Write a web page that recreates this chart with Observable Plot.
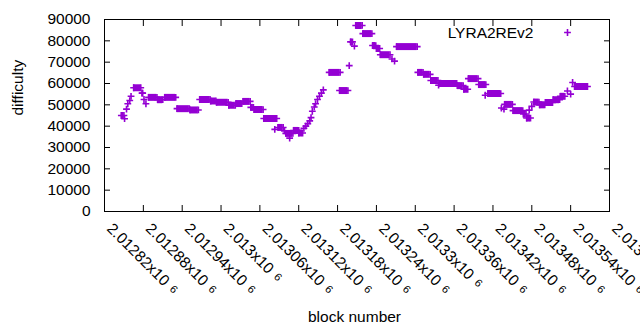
<!DOCTYPE html>
<html><head><meta charset="utf-8">
<script src="https://cdn.jsdelivr.net/npm/d3@7"></script>
<script src="https://cdn.jsdelivr.net/npm/@observablehq/plot@0.6"></script>
<style>body{margin:0;background:#fff}</style>
</head><body><div id="chart"></div>
<script>
// Each entry: a run of blocks [blockStart .. blockEnd] with the same difficulty (single point when equal)
const blockStart = [2012846,2012851,2012854,2012856,2012859,2012861,2012865,2012878,2012881,2012884,
  2012888,2012902,2012913,2012932,2012952,2012967,2012984,2012993,2013012,2013023,
  2013034,2013046,2013051,2013066,2013083,2013088,2013098,2013100,2013106,2013112,
  2013120,2013128,2013131,2013134,2013137,2013139,2013141,2013144,2013146,2013149,
  2013152,2013155,2013158,2013167,2013183,2013198,2013200,2013206,2013208,2013219,
  2013234,2013240,2013246,2013264,2013268,2013271,2013304,2013313,2013324,2013336,
  2013337,2013365,2013375,2013382,2013398,2013408,2013412,2013433,2013437,2013438,
  2013451,2013467,2013472,2013476,2013480,2013483,2013492,2013501,2013513,2013524,
  2013535,2013540,2013543,2013546];
const blockEnd = [2012850,2012851,2012854,2012856,2012859,2012861,2012876,2012879,2012881,2012884,
  2012901,2012910,2012930,2012951,2012965,2012983,2012992,2013011,2013022,2013032,
  2013045,2013050,2013065,2013086,2013083,2013096,2013098,2013111,2013106,2013120,
  2013126,2013128,2013131,2013134,2013137,2013139,2013141,2013144,2013146,2013149,
  2013152,2013155,2013158,2013184,2013196,2013198,2013203,2013206,2013218,2013233,
  2013239,2013245,2013261,2013264,2013268,2013303,2013312,2013323,2013335,2013336,
  2013364,2013374,2013381,2013397,2013409,2013408,2013432,2013433,2013437,2013450,
  2013466,2013471,2013478,2013476,2013480,2013491,2013500,2013512,2013523,2013531,
  2013535,2013540,2013543,2013566];
const difficulty = [45000,43500,48000,50500,52000,54000,58000,55500,52500,50500,
  53500,52400,53500,48200,47600,52500,51800,51200,49800,50600,
  51600,48800,47800,43600,38500,39400,37800,36600,34400,38000,
  36800,39000,40000,41200,42500,44000,47000,49000,50500,52500,
  54000,55500,57000,65200,56700,68400,79500,77500,87200,83400,
  77800,76400,73500,71500,70500,77300,65200,64300,61400,59200,
  60000,59000,57300,62300,59500,54500,55300,48500,48000,50200,
  47300,45700,43800,47500,49300,51300,50000,51100,52400,54000,
  56500,55000,60500,58600];

const xTicks = [2012820,2012880,2012940,2013000,2013060,2013120,2013180,2013240,2013300,2013360,2013420,2013480,2013540,2013600];
const xTickLabels = ["2.01282","2.01288","2.01294","2.013","2.01306","2.01312","2.01318","2.01324","2.0133","2.01336","2.01342","2.01348","2.01354","2.0136"];
const xExponent = "6";
const yTicks = [0,10000,20000,30000,40000,50000,60000,70000,80000,90000];
const seriesName = "LYRA2REv2";
const xTitle = "block number";
const yTitle = "difficulty";

const color = "#9400d3";
const plusR = 2.33; // gives a plus about 7 px across
const rows = blockStart.map((s, i) => ({s, e: blockEnd[i], v: difficulty[i]}));
const runs = rows.filter(d => d.e > d.s);
const pts = rows.flatMap(d => d.e > d.s ? [{b: d.s, v: d.v}, {b: d.e, v: d.v}] : [{b: d.s, v: d.v}]);

const chart = Plot.plot({
  width: 640, height: 330,
  marginLeft: 104, marginRight: 31, marginTop: 19, marginBottom: 119,
  style: {fontFamily: '"Liberation Sans", Arial, sans-serif', fontSize: "15.5px", background: "white", color: "black"},
  x: {domain: [2012820, 2013600]},
  y: {domain: [0, 90000]},
  marks: [
    Plot.ruleY(runs, {y: "v", x1: "s", x2: "e", stroke: color, strokeWidth: 7}),
    Plot.dot(pts, {x: "b", y: "v", symbol: "plus", r: plusR, stroke: color, strokeWidth: 1.6, fill: "none"}),
    Plot.frame({stroke: "black"}),
    Plot.axisY(yTicks, {anchor: "left", tickSize: -6, tickPadding: 20, tickFormat: d => String(d), label: null}),
    Plot.axisY(yTicks, {anchor: "right", tickSize: -6, tickFormat: () => "", label: null}),
    Plot.axisX(xTicks, {anchor: "bottom", tickSize: -6, tickFormat: () => "", label: null}),
    Plot.axisX(xTicks, {anchor: "top", tickSize: -6, tickFormat: () => "", label: null}),
    Plot.text(xTicks, {x: d => d, text: (d, i) => xTickLabels[i] + "x10", frameAnchor: "bottom", dy: 18, dx: 1.5, rotate: 45, textAnchor: "start", lineAnchor: "bottom"}),
    Plot.text([seriesName], {x: null, y: null, frameAnchor: "top-right", dx: -76, dy: 18.3, textAnchor: "end", lineAnchor: "bottom"}),
    Plot.dot([seriesName], {x: null, y: null, frameAnchor: "top-right", dx: -42, dy: 13, symbol: "plus", r: plusR, stroke: color, strokeWidth: 1.6, fill: "none"}),
    Plot.text([yTitle], {x: null, y: null, frameAnchor: "left", dx: -86.5, rotate: -90, lineAnchor: "middle"}),
    Plot.text([xTitle], {x: null, y: null, frameAnchor: "bottom", dx: -2.5, dy: 110, lineAnchor: "bottom"})
  ]
});
const labelSet = new Set(xTickLabels.map(s => s + "x10"));
chart.querySelectorAll("text").forEach(t => {
  if (!labelSet.has(t.textContent)) return;
  const sup = document.createElementNS("http://www.w3.org/2000/svg", "tspan");
  sup.setAttribute("dx", "6");
  sup.setAttribute("dy", "-2");
  sup.setAttribute("font-size", "11");
  sup.textContent = xExponent;
  t.appendChild(sup);
});
document.getElementById("chart").appendChild(chart);
</script>
</body></html>
